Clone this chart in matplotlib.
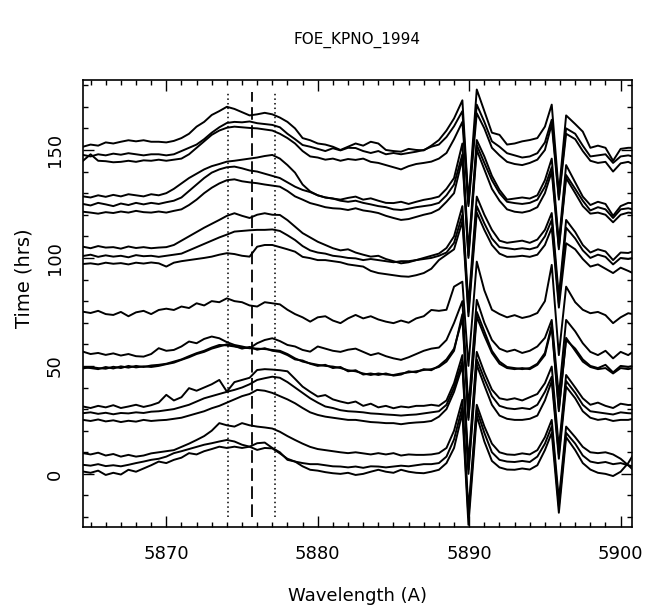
import matplotlib
matplotlib.use("Agg")
import matplotlib.pyplot as plt
from matplotlib.ticker import MultipleLocator

# wavelength grid (A) shared by all spectra
wave = [5864.5, 5865.0, 5865.5, 5866.0, 5866.5, 5867.0, 5867.5, 5868.0, 5868.5, 5869.0,
        5869.5, 5870.0, 5870.5, 5871.0, 5871.5, 5872.0, 5872.5, 5873.0, 5873.5, 5874.0,
        5874.5, 5875.0, 5875.5, 5876.0, 5876.5, 5877.0, 5877.5, 5878.0, 5878.5, 5879.0,
        5879.5, 5880.0, 5880.5, 5881.0, 5881.5, 5882.0, 5882.5, 5883.0, 5883.5, 5884.0,
        5884.5, 5885.0, 5885.5, 5886.0, 5886.5, 5887.0, 5887.5, 5888.0, 5888.5, 5889.0,
        5889.55, 5889.95, 5890.5, 5891.0, 5891.5, 5892.0, 5892.5, 5893.0, 5893.5, 5894.0,
        5894.5, 5895.0, 5895.45, 5895.92, 5896.4, 5897.0, 5897.5, 5898.0, 5898.5, 5899.0,
        5899.5, 5900.0, 5900.5, 5900.8]

# spectra, already offset by observation time (hrs), top to bottom
t1 = [151.5, 152.5, 152.0, 153.5, 153.0, 153.8, 154.5, 154.0, 154.5, 153.8,
      153.8, 153.5, 154.2, 155.5, 157.5, 160.8, 163.0, 166.2, 168.0, 170.0,
      169.0, 167.5, 166.0, 166.5, 167.2, 166.5, 165.0, 163.0, 160.0, 155.5,
      154.5, 153.0, 152.5, 151.5, 150.0, 151.5, 153.0, 152.0, 153.8, 153.0,
      150.0, 149.5, 149.2, 150.5, 150.0, 149.8, 152.0, 154.6, 159.0, 164.6,
      173.0, 126.0, 178.0, 168.0, 158.0, 157.0, 152.5, 153.0, 154.0, 154.6,
      155.5, 160.8, 171.0, 130.0, 166.0, 162.0, 158.5, 151.0, 152.0, 151.0,
      145.0, 150.5, 151.0, 151.0]
t2 = [147.7, 147.0, 148.0, 147.5, 148.3, 147.8, 148.5, 148.0, 147.5, 148.0,
      148.0, 147.5, 148.0, 149.5, 151.0, 152.5, 155.0, 158.0, 160.5, 162.5,
      163.0, 162.8, 163.2, 162.4, 162.0, 161.6, 160.5, 157.5, 155.0, 152.3,
      151.5, 150.5, 149.5, 150.8, 149.8, 151.0, 150.9, 149.5, 148.6, 149.5,
      148.0, 148.6, 148.0, 148.6, 149.2, 150.0, 151.5, 152.5, 156.0, 161.0,
      168.0, 125.0, 171.0, 163.0, 154.0, 151.5, 148.5, 147.5, 146.5, 147.0,
      148.5, 153.5, 164.0, 128.0, 160.0, 157.5, 152.0, 147.0, 147.5, 148.0,
      144.0, 147.0, 147.5, 147.0]
t3 = [145.0, 148.0, 145.0, 144.8, 144.3, 144.5, 145.0, 144.5, 145.2, 145.0,
      145.5, 145.0, 145.5, 146.0, 148.0, 151.0, 154.0, 157.0, 159.0, 160.3,
      160.8, 160.5, 160.2, 160.0, 159.5, 159.0, 157.5, 155.5, 153.0, 149.5,
      147.0, 146.5, 145.5, 146.0, 145.0, 145.8, 145.4, 146.0, 144.5, 144.0,
      143.0, 142.0, 141.0, 142.5, 143.5, 144.0, 144.6, 146.0, 148.6, 155.0,
      163.0, 124.0, 167.0, 160.0, 151.0, 147.5, 144.5, 143.5, 143.0, 144.0,
      145.5, 150.0, 162.0, 127.0, 157.5, 155.0, 149.5, 145.0, 144.0, 144.5,
      140.0, 143.8, 144.5, 143.5]
u1 = [128.5, 128.0, 129.0, 128.3, 129.2, 128.5, 129.5, 129.0, 128.5, 129.5,
      129.0, 130.0, 132.0, 134.5, 137.0, 139.0, 141.0, 142.5, 143.5, 144.6,
      145.0, 145.5, 146.0, 146.5, 147.2, 147.7, 146.0, 143.0, 139.5, 134.0,
      130.8, 129.0, 128.0, 127.5, 127.0, 127.8, 128.4, 127.0, 127.6, 126.5,
      125.5, 125.4, 126.0, 125.0, 126.0, 126.9, 127.5, 128.4, 132.0, 137.0,
      153.0, 103.0, 154.6, 147.0, 138.0, 131.5, 127.0, 127.5, 128.0, 127.5,
      129.0, 136.0, 146.0, 107.0, 143.0, 135.0, 128.4, 124.5, 126.0, 125.0,
      119.5, 124.0, 125.5, 125.4]
u2 = [125.0, 124.3, 125.5, 124.8, 124.0, 125.2, 124.5, 125.5, 124.8, 125.5,
      125.0, 125.8, 126.5, 128.0, 131.0, 134.0, 137.0, 139.5, 141.0, 142.0,
      142.3, 141.5, 140.5, 140.0, 139.0, 138.0, 137.0, 135.0, 133.0, 131.5,
      130.5, 129.0, 128.0, 127.5, 126.5, 126.0, 126.5, 125.5, 124.8, 124.0,
      123.5, 122.5, 122.2, 122.8, 123.5, 124.0, 124.5, 125.5, 129.0, 134.0,
      148.0, 101.0, 152.3, 144.0, 136.0, 130.0, 126.0, 125.4, 125.0, 125.5,
      127.0, 133.0, 142.0, 105.0, 138.4, 132.0, 126.5, 122.0, 123.5, 122.5,
      118.5, 122.5, 123.0, 122.5]
u3 = [121.4, 121.0, 120.5, 121.2, 120.8, 121.5, 121.0, 121.8, 121.2, 121.0,
      121.5, 121.0, 121.8, 122.5, 124.5, 127.0, 130.0, 132.5, 134.5, 136.0,
      136.4, 135.5, 135.0, 134.6, 134.0, 133.5, 133.0, 131.0, 128.5, 127.0,
      125.4, 124.5, 123.5, 123.0, 122.8, 122.2, 123.0, 122.0, 121.5, 120.8,
      119.5, 118.5, 117.6, 118.0, 119.0, 120.0, 120.8, 122.5, 126.0, 130.0,
      146.0, 100.0, 150.0, 141.0, 132.0, 126.5, 122.5, 121.4, 121.0, 121.8,
      123.5, 130.0, 140.0, 104.0, 137.0, 130.0, 124.0, 120.5, 121.0, 120.0,
      116.5, 120.0, 121.0, 120.8]
v1 = [105.2, 104.5, 105.5, 104.8, 105.0, 104.3, 105.3, 104.6, 105.0, 104.5,
      104.8, 105.0, 106.0, 108.0, 110.0, 112.0, 114.0, 115.8, 117.6, 119.5,
      120.7, 119.5, 118.5, 120.0, 120.7, 120.0, 119.9, 117.5, 114.5, 111.5,
      109.5, 107.5, 106.0, 104.5, 103.5, 104.0, 102.5, 101.5, 100.6, 101.0,
      99.5, 98.5, 97.5, 98.0, 99.0, 100.0, 101.0, 102.0, 104.6, 110.0,
      124.0, 78.0, 128.4, 120.0, 113.0, 108.0, 107.0, 107.5, 108.0, 107.0,
      108.5, 113.0, 120.8, 82.0, 117.6, 112.0, 106.0, 102.5, 104.0, 103.0,
      99.0, 102.5, 102.3, 103.0]
v2 = [100.9, 101.5, 100.5, 101.2, 100.6, 101.0, 100.3, 101.3, 100.8, 101.0,
      100.5, 101.0, 101.5, 102.0, 103.5, 105.0, 106.5, 108.0, 109.5, 110.8,
      112.2, 112.5, 112.8, 113.0, 113.0, 113.2, 112.5, 110.5, 108.3, 105.5,
      103.5, 102.5, 102.0, 101.0, 100.6, 100.0, 99.8, 99.0, 99.5, 99.0,
      98.5, 98.0, 98.5, 98.5, 99.0, 99.5, 100.0, 101.0, 102.5, 107.0,
      120.0, 75.0, 124.0, 116.0, 109.0, 105.0, 104.5, 104.0, 104.5, 104.0,
      105.0, 110.0, 117.6, 79.0, 114.0, 109.0, 103.5, 100.0, 101.5, 100.5,
      97.0, 100.0, 99.5, 100.0]
v3 = [97.2, 97.5, 97.0, 97.8, 97.3, 97.6, 97.0, 97.8, 97.4, 97.9,
      97.5, 96.0, 97.8, 98.5, 99.0, 99.5, 100.0, 100.6, 101.5, 102.2,
      101.8, 101.0, 100.6, 105.2, 106.0, 106.0, 105.0, 104.0, 102.9, 100.5,
      99.9, 99.0, 99.0, 98.5, 98.0, 97.0, 96.5, 96.0, 94.0, 93.0,
      92.5, 92.0, 91.5, 91.3, 92.0, 93.0, 95.0, 99.0, 101.5, 104.0,
      117.0, 73.0, 121.0, 113.0, 106.0, 102.0, 100.5, 100.6, 101.0, 100.5,
      101.5, 106.0, 114.0, 77.0, 106.8, 104.0, 99.5, 96.0, 97.0, 95.0,
      93.0, 95.5, 94.0, 93.0]
s1 = [75.1, 74.5, 75.5, 74.0, 73.6, 75.0, 73.0, 74.8, 75.5, 74.0,
      75.9, 76.5, 75.9, 77.5, 76.8, 79.0, 78.0, 80.0, 79.5, 81.3,
      80.0, 79.5, 78.0, 77.5, 79.5, 79.0, 78.5, 76.0, 74.0, 72.5,
      70.5, 72.5, 73.0, 71.0, 69.8, 72.0, 73.6, 72.0, 73.0, 71.5,
      70.5, 69.8, 71.0, 70.0, 72.0, 73.0, 75.9, 75.5, 76.0, 86.7,
      89.0, 50.0, 98.3, 85.0, 76.0, 74.0, 72.5, 73.5, 72.2, 73.0,
      74.5, 80.0, 96.8, 55.0, 86.7, 79.5, 76.0, 74.4, 75.0, 73.5,
      69.8, 72.5, 74.4, 74.0]
w1 = [56.6, 55.5, 56.0, 55.1, 55.8, 54.8, 55.5, 54.5, 54.3, 55.5,
      58.2, 57.0, 57.4, 59.0, 61.3, 60.5, 62.5, 63.6, 62.8, 61.0,
      59.7, 59.0, 58.2, 60.5, 62.0, 62.8, 61.5, 59.7, 59.0, 57.4,
      56.6, 59.0, 58.0, 57.0, 56.5, 57.5, 58.0, 56.5, 55.0, 55.9,
      54.5, 53.5, 52.8, 54.0, 55.5, 57.0, 58.0, 58.5, 62.0, 69.9,
      80.0, 30.0, 80.6, 70.0, 62.0, 58.0, 56.6, 57.5, 56.0, 57.0,
      59.0, 63.0, 71.3, 36.0, 71.3, 66.0, 60.5, 56.5, 55.0, 57.0,
      53.5, 56.5, 55.0, 56.5]
w2 = [49.4, 49.0, 48.5, 49.5, 48.8, 49.8, 49.2, 50.0, 49.5, 50.2,
      50.5, 51.0, 52.0, 53.0, 54.5, 55.9, 57.0, 58.5, 59.7, 59.5,
      59.0, 58.5, 58.2, 58.0, 57.8, 57.4, 57.0, 55.5, 53.5, 52.0,
      51.2, 50.5, 50.0, 49.7, 49.0, 48.0, 47.5, 46.5, 45.8, 46.5,
      46.0, 45.8, 46.5, 47.0, 47.5, 48.1, 48.5, 49.5, 52.0, 57.0,
      74.0, 26.0, 75.0, 66.0, 57.0, 52.0, 49.5, 49.0, 48.5, 49.0,
      51.0, 56.0, 69.0, 30.0, 62.0, 58.0, 53.0, 50.0, 49.0, 50.5,
      47.0, 50.0, 49.5, 50.0]
w3 = [48.8, 49.5, 49.0, 48.7, 49.6, 49.0, 50.0, 49.3, 49.8, 49.5,
      50.0, 50.8, 51.5, 52.8, 54.0, 55.5, 56.5, 58.0, 59.0, 60.0,
      59.2, 58.0, 58.8, 57.5, 58.2, 57.0, 56.5, 55.0, 53.0, 52.5,
      51.0, 50.0, 50.5, 49.0, 49.5, 47.5, 48.0, 46.0, 46.5, 45.8,
      46.5, 45.5, 46.0, 47.5, 47.0, 48.5, 48.0, 50.0, 53.0, 58.0,
      72.0, 25.0, 72.8, 64.0, 56.0, 51.0, 49.0, 48.5, 49.0, 48.5,
      50.5, 55.0, 68.0, 29.0, 63.0, 57.0, 52.0, 49.5, 48.5, 49.0,
      46.5, 49.0, 48.5, 49.0]
x1 = [31.2, 30.5, 31.5, 30.8, 31.8, 30.5, 31.2, 32.0, 31.0, 31.8,
      33.0, 36.6, 34.0, 35.5, 39.7, 38.5, 40.0, 41.5, 43.5, 38.1,
      42.5, 43.5, 44.5, 48.1, 48.5, 48.3, 48.0, 47.5, 44.0, 40.4,
      38.0, 35.8, 36.5, 34.5, 33.5, 32.7, 33.5, 31.5, 32.5, 30.8,
      31.5, 30.4, 31.2, 30.8, 31.5, 31.5, 32.0, 31.5, 34.0, 42.0,
      55.0, 5.0, 56.5, 47.0, 39.0, 35.0, 34.3, 35.0, 34.0, 35.5,
      37.0, 42.0, 49.7, 12.0, 45.8, 40.0, 35.0, 32.0, 33.0, 31.5,
      30.5, 32.5, 31.9, 32.0]
x2 = [28.1, 28.5, 27.8, 28.3, 27.6, 28.2, 28.0, 28.5, 28.2, 28.8,
      29.0, 29.5, 30.0, 31.0, 32.0, 33.5, 35.0, 36.0, 37.0, 38.0,
      38.9, 40.0, 41.5, 43.5, 44.3, 45.0, 44.5, 42.5, 40.0, 37.5,
      35.0, 33.0, 31.2, 30.5, 29.5, 29.0, 28.8, 28.5, 28.0, 27.8,
      27.5, 27.3, 27.0, 27.3, 27.5, 28.0, 28.5, 29.0, 32.0, 40.0,
      52.0, 2.0, 53.0, 44.0, 36.0, 31.5, 30.4, 30.0, 30.5, 30.0,
      32.0, 38.0, 45.0, 9.0, 43.0, 37.5, 32.0, 29.0, 28.5, 28.0,
      27.5, 28.5, 28.1, 28.0]
x3 = [25.0, 24.5, 25.2, 24.3, 24.8, 24.0, 24.6, 24.2, 25.0, 24.5,
      24.8, 25.0, 25.5, 26.0, 27.0, 28.0, 29.0, 30.4, 31.5, 33.0,
      34.5, 36.0, 37.0, 38.9, 38.5, 37.5, 36.0, 34.5, 32.7, 30.5,
      28.5, 27.3, 26.5, 26.0, 25.5, 25.0, 25.0, 24.5, 24.0, 23.8,
      23.5, 23.5, 23.0, 23.5, 23.8, 24.0, 24.5, 26.5, 30.0, 38.0,
      50.0, 0.0, 50.5, 41.0, 32.0, 27.0, 25.5, 25.0, 25.0, 25.5,
      27.0, 34.0, 43.0, 7.0, 40.4, 35.0, 29.0, 26.0, 25.0, 25.5,
      24.5, 25.0, 25.0, 25.5]
y1 = [9.6, 9.0, 9.8, 8.5, 9.2, 8.0, 8.8, 8.0, 8.5, 9.5,
      10.0, 10.5, 11.0, 12.5, 14.0, 15.7, 17.5, 20.0, 23.5, 22.5,
      21.9, 23.5, 22.5, 21.9, 21.5, 21.0, 19.5, 17.5, 15.7, 14.0,
      12.5, 11.5, 11.0, 10.5, 10.0, 9.6, 10.0, 9.5, 9.0, 9.6,
      9.0, 9.6, 8.5, 9.0, 8.8, 8.8, 9.0, 9.6, 12.0, 20.0,
      34.3, -17.0, 32.0, 22.0, 14.0, 10.0, 9.0, 8.8, 9.5, 9.0,
      11.0, 17.0, 25.0, -12.0, 21.9, 17.0, 12.5, 10.0, 9.6, 10.0,
      9.0, 7.0, 4.0, 2.0]
y2 = [4.2, 3.8, 4.5, 3.6, 4.0, 3.5, 4.2, 5.0, 5.7, 6.5,
      7.0, 8.0, 9.6, 10.5, 11.5, 12.5, 13.5, 14.2, 15.0, 15.7,
      15.0, 13.5, 12.6, 14.2, 14.5, 12.0, 10.0, 6.5, 5.7, 5.0,
      4.5, 4.5, 4.0, 3.5, 3.4, 3.0, 3.4, 2.8, 3.5, 3.4,
      3.0, 3.4, 3.8, 3.5, 4.0, 4.5, 4.5, 5.0, 8.0, 16.0,
      31.0, -20.0, 29.6, 19.0, 10.0, 6.5, 5.7, 5.5, 6.0, 5.5,
      8.0, 14.0, 22.0, -15.0, 19.0, 14.0, 8.5, 5.7, 5.0, 5.5,
      4.5, 5.0, 4.0, 3.5]
y3 = [1.1, 0.5, 1.5, -0.5, 0.5, -0.3, 1.9, 1.0, 2.5, 4.0,
      5.7, 5.0, 6.5, 7.5, 9.6, 9.0, 10.5, 11.5, 12.6, 12.0,
      12.6, 12.0, 12.6, 11.1, 12.0, 11.8, 9.5, 7.0, 5.7, 3.5,
      1.9, 1.5, 0.8, 0.3, 0.0, 0.5, -0.5, 0.0, 1.0, 1.9,
      1.0, 0.5, 1.9, 1.0, 0.5, 0.3, 1.0, 1.9, 5.0, 12.0,
      28.2, -23.6, 27.0, 15.0, 6.0, 3.0, 2.0, 1.9, 2.5, 2.0,
      4.0, 11.0, 19.0, -18.0, 17.0, 11.0, 5.0, 2.0, 0.5, 0.0,
      -1.0, 1.0, 5.0, 8.5]

spectra = [t1, t2, t3, u1, u2, u3, v1, v2, v3, s1,
           w1, w2, w3, x1, x2, x3, y1, y2, y3]

# He I 5876 marker lines (dotted: +/- limits, dashed: rest wavelength)
he_dotted = [5874.1, 5877.2]
he_rest = 5875.65

fig = plt.figure(figsize=(6.52, 6.14), dpi=100)
ax = fig.add_axes([83 / 652, 1 - 527 / 614, 549 / 652, 447 / 614])

for s in spectra:
    ax.plot(wave, s, color="black", lw=1.4)

ax.vlines(he_dotted, -20, 177, colors="black", lw=1.1, linestyles=(0, (1, 2)))
ax.vlines(he_rest, -20, 177, colors="black", lw=1.3, linestyles=(0, (7, 3)))

ax.set_xlim(5864.5, 5900.75)
ax.set_ylim(-24.6, 182.4)
ax.xaxis.set_major_locator(MultipleLocator(10))
ax.xaxis.set_minor_locator(MultipleLocator(1))
ax.yaxis.set_major_locator(MultipleLocator(50))
ax.yaxis.set_minor_locator(MultipleLocator(10))
ax.tick_params(which="both", direction="in", top=True, right=True, width=1.0)
ax.tick_params(which="major", length=8)
ax.tick_params(which="minor", length=3.8)
ax.tick_params(axis="x", labelsize=13, pad=13)
ax.tick_params(axis="y", labelsize=13, pad=14, labelrotation=90)
for lab in ax.get_yticklabels():
    lab.set_va("center")
for sp in ax.spines.values():
    sp.set_linewidth(1.2)

ax.set_xlabel("Wavelength (A)", fontsize=13, labelpad=17)
fig.text(24 / 652, 1 - 278 / 614, "Time (hrs)", fontsize=14, rotation=90,
         ha="center", va="center")
fig.text(357 / 652, 1 - 40 / 614, "FOE_KPNO_1994", fontsize=11,
         ha="center", va="center")

fig.savefig("out.png", dpi=100)
